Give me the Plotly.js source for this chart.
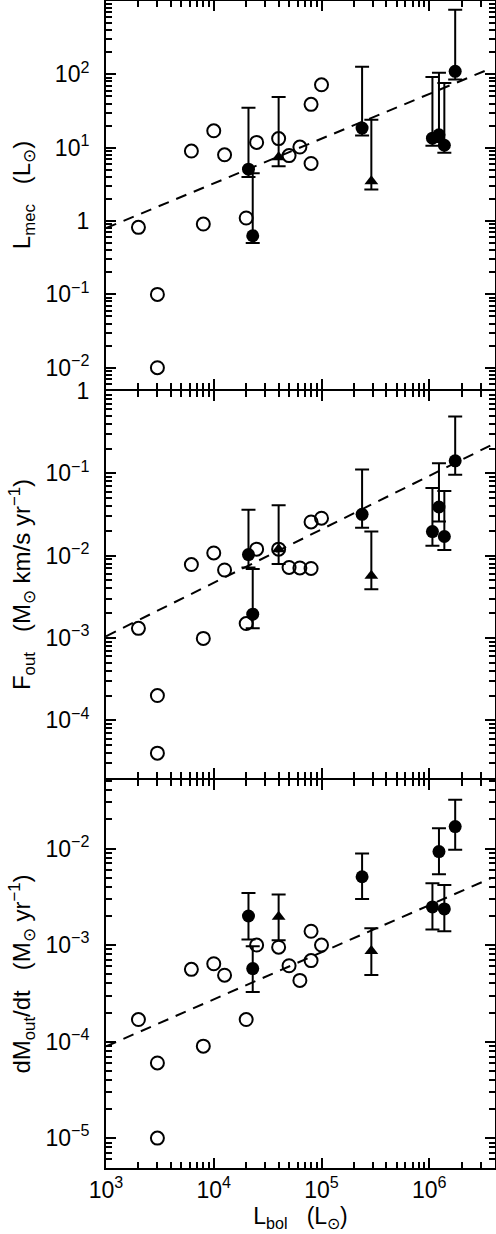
<!DOCTYPE html>
<html>
<head>
<meta charset="utf-8">
<script src="https://cdn.plot.ly/plotly-3.0.1.min.js"></script>
<style>
  html, body { margin: 0; padding: 0; background: #fff; }
  #chart { width: 496px; height: 1234px; }
</style>
</head>
<body>
<div id="chart"></div>
<script>
// bolometric luminosities (Lsun)
const openL = [2000, 3000, 3000, 6200, 10000, 12600, 8000, 20000, 25000, 40000, 50000, 63000, 80000, 80000, 100000];
const filledL = [21000, 23000, 238000, 1070000, 1230000, 1380000, 1740000];
const triL = [40000, 290000];
const fitL = [1000, 3700000];

// L_mec (Lsun)
const mecOpen = [0.82, 0.1, 0.01, 9, 17, 8, 0.91, 1.1, 11.8, 13.3, 7.8, 10.2, 6.1, 39, 72];
const mecFilled = [5.1, 0.63, 18.5, 13.5, 15, 10.8, 110];
const mecFilledHi = [35, 4.5, 127, 92, 105, 76, 760];
const mecFilledLo = [4.0, 0.5, 14.7, 10.6, 12, 8.5, 85];
const mecTri = [7.4, 3.5];
const mecTriHi = [49, 24];
const mecTriLo = [5.6, 2.7];
const mecFit = [0.8, 120];

// F_out (Msun km/s/yr)
const foutOpen = [1.31e-3, 2.0e-4, 4.0e-5, 7.8e-3, 1.08e-2, 6.7e-3, 9.9e-4, 1.5e-3, 1.2e-2, 1.2e-2, 7.2e-3, 7.1e-3, 7.0e-3, 2.57e-2, 2.85e-2];
const foutFilled = [1.03e-2, 1.95e-3, 3.18e-2, 1.96e-2, 3.9e-2, 1.71e-2, 0.142];
const foutFilledHi = [3.6e-2, 6.9e-3, 0.111, 6.65e-2, 0.133, 6.1e-2, 0.49];
const foutFilledLo = [7.2e-3, 1.31e-3, 2.19e-2, 1.32e-2, 2.6e-2, 1.17e-2, 9.6e-2];
const foutTri = [1.2e-2, 5.7e-3];
const foutTriHi = [4.1e-2, 1.96e-2];
const foutTriLo = [7.9e-3, 3.9e-3];
const foutFit = [1.05e-3, 0.218];

// dM_out/dt (Msun/yr)
const mdotOpen = [1.69e-4, 6.0e-5, 1.0e-5, 5.6e-4, 6.4e-4, 4.87e-4, 8.96e-5, 1.69e-4, 1.0e-3, 9.5e-4, 6.1e-4, 4.3e-4, 6.9e-4, 1.39e-3, 1.0e-3];
const mdotFilled = [2.0e-3, 5.7e-4, 5.1e-3, 2.48e-3, 9.3e-3, 2.37e-3, 1.69e-2];
const mdotFilledHi = [3.46e-3, 9.7e-4, 8.9e-3, 4.38e-3, 1.62e-2, 4.2e-3, 3.2e-2];
const mdotFilledLo = [1.14e-3, 3.27e-4, 3.0e-3, 1.45e-3, 5.4e-3, 1.39e-3, 9.7e-3];
const mdotTri = [1.96e-3, 8.7e-4];
const mdotTriHi = [3.33e-3, 1.49e-3];
const mdotTriLo = [1.12e-3, 4.9e-4];
const mdotFit = [8.9e-5, 4.9e-3];

// tick labels
const xTickVals = [1e3, 1e4, 1e5, 1e6];
const xTickText = ['10<sup>3</sup>', '10<sup>4</sup>', '10<sup>5</sup>', '10<sup>6</sup>'];
const y1TickVals = [0.01, 0.1, 1, 10, 100];
const y1TickText = ['10<sup>\u22122</sup>', '10<sup>\u22121</sup>', '1', '10<sup>1</sup>', '10<sup>2</sup>'];
const y2TickVals = [1e-4, 1e-3, 1e-2, 1e-1, 1];
const y2TickText = ['10<sup>\u22124</sup>', '10<sup>\u22123</sup>', '10<sup>\u22122</sup>', '10<sup>\u22121</sup>', '1'];
const y3TickVals = [1e-5, 1e-4, 1e-3, 1e-2];
const y3TickText = ['10<sup>\u22125</sup>', '10<sup>\u22124</sup>', '10<sup>\u22123</sup>', '10<sup>\u22122</sup>'];

const FONT = 'Liberation Sans, Arial, Helvetica, sans-serif';
const GAP = '\u00a0\u00a0\u00a0';
// one pixel of plot height, so that neighbouring axis lines fall on one row
const PX = 1 / 1167;

function errBar(y, hi, lo) {
    return {
        type: 'data', symmetric: false,
        array: y.map((v, i) => hi[i] - v),
        arrayminus: y.map((v, i) => v - lo[i]),
        color: 'black', thickness: 2, width: 7
    };
}

function panelTraces(xa, ya, open, filled, fHi, fLo, tri, tHi, tLo, fit) {
    return [
        { x: fitL, y: fit, xaxis: xa, yaxis: ya, mode: 'lines', type: 'scatter',
          line: { color: 'black', width: 2, dash: '11px,8px' }, hoverinfo: 'skip' },
        { x: openL, y: open, xaxis: xa, yaxis: ya, mode: 'markers', type: 'scatter',
          marker: { symbol: 'circle-open', size: 13, color: 'black', line: { width: 2, color: 'black' } } },
        { x: filledL, y: filled, xaxis: xa, yaxis: ya, mode: 'markers', type: 'scatter',
          error_y: errBar(filled, fHi, fLo),
          marker: { symbol: 'circle', size: 13, color: 'black' } },
        { x: triL, y: tri, xaxis: xa, yaxis: ya, mode: 'markers', type: 'scatter',
          error_y: errBar(tri, tHi, tLo),
          marker: { symbol: 'triangle-up', size: 12, color: 'black' } }
    ];
}

function xAxis(anchor, showLabels) {
    return {
        type: 'log', range: [3, 6.61], anchor: anchor,
        tickmode: 'array', tickvals: xTickVals, ticktext: xTickText,
        showticklabels: showLabels,
        ticks: 'inside', ticklen: 10, tickwidth: 2, tickcolor: 'black',
        minor: { dtick: 'D1', ticks: 'inside', ticklen: 6, tickwidth: 2, tickcolor: 'black' },
        showline: true, linewidth: 2, linecolor: 'black', mirror: 'ticks',
        showgrid: false, zeroline: false,
        tickfont: { family: FONT, size: 23, color: 'black' }
    };
}

function yAxis(anchor, domain, range, vals, text, title) {
    return {
        type: 'log', range: range, anchor: anchor, domain: domain,
        tickmode: 'array', tickvals: vals, ticktext: text,
        ticks: 'inside', ticklen: 10, tickwidth: 2, tickcolor: 'black',
        minor: { dtick: 'D1', ticks: 'inside', ticklen: 6, tickwidth: 2, tickcolor: 'black' },
        showline: true, linewidth: 2, linecolor: 'black', mirror: 'ticks',
        showgrid: false, zeroline: false,
        ticklabelstandoff: 10,
        tickfont: { family: FONT, size: 23, color: 'black' },
        title: { text: title, font: { family: FONT, size: 24, color: 'black' }, standoff: 8 }
    };
}

const data = [].concat(
    panelTraces('x3', 'y3', mecOpen, mecFilled, mecFilledHi, mecFilledLo, mecTri, mecTriHi, mecTriLo, mecFit),
    panelTraces('x2', 'y2', foutOpen, foutFilled, foutFilledHi, foutFilledLo, foutTri, foutTriHi, foutTriLo, foutFit),
    panelTraces('x', 'y', mdotOpen, mdotFilled, mdotFilledHi, mdotFilledLo, mdotTri, mdotTriHi, mdotTriLo, mdotFit)
);

const bottomX = xAxis('y', true);
bottomX.title = { text: 'L<sub>bol</sub>' + GAP + '(L<sub>\u2299</sub>)', font: { family: FONT, size: 23, color: 'black' }, standoff: 6 };
const midX = xAxis('y2', false);
midX.matches = 'x';
const topX = xAxis('y3', false);
topX.matches = 'x';

const layout = {
    width: 496, height: 1234,
    margin: { l: 106, r: 1, t: 1, b: 66 },
    paper_bgcolor: 'white', plot_bgcolor: 'white',
    showlegend: false,
    font: { family: FONT, color: 'black' },
    xaxis: bottomX,
    xaxis2: midX,
    xaxis3: topX,
    yaxis: yAxis('x', [0, 1 / 3 - PX], [-5.31, -1.29], y3TickVals, y3TickText,
        'dM<sub>out</sub>/dt' + GAP + '(M<sub>\u2299</sub> yr<sup>\u22121</sup>)'),
    yaxis2: yAxis('x2', [1 / 3 + PX, 2 / 3 - PX], [-4.70, 0], y2TickVals, y2TickText,
        'F<sub>out</sub>' + GAP + '(M<sub>\u2299</sub> km/s yr<sup>\u22121</sup>)'),
    yaxis3: yAxis('x3', [2 / 3 + PX, 1], [-2.29, 3.0], y1TickVals, y1TickText,
        'L<sub>mec</sub>' + GAP + '(L<sub>\u2299</sub>)')
};

Plotly.newPlot('chart', data, layout, { staticPlot: true });
</script>
</body>
</html>
